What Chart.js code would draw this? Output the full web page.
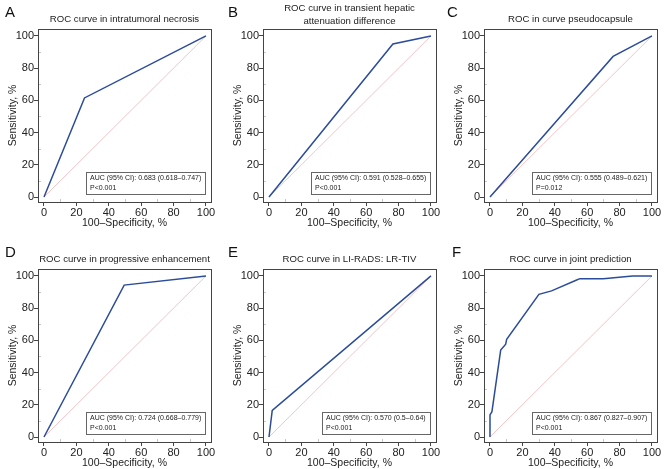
<!DOCTYPE html>
<html>
<head>
<meta charset="utf-8">
<script src="https://cdn.jsdelivr.net/npm/chart.js@4.4.0/dist/chart.umd.min.js"></script>
<style>
html,body{margin:0;padding:0;background:#fff;}
#wrap{position:relative;width:670px;height:469px;overflow:hidden;}
#wrap canvas{position:absolute;}
</style>
</head>
<body>
<div id="wrap"></div>
<script>
// tick labels shared by all panels
var axisTicks = [0, 20, 40, 60, 80, 100];
var minorTicks = [10, 30, 50, 70, 90];
var refX = [0, 100], refY = [0, 100];

// A - intratumoral necrosis
var fprA = [0, 25, 100];
var tprA = [0, 61.5, 100];
// B - transient hepatic attenuation difference
var fprB = [0, 76.5, 100];
var tprB = [0, 95, 100];
// C - pseudocapsule
var fprC = [0, 76, 100];
var tprC = [0, 87.3, 100];
// D - progressive enhancement
var fprD = [0, 49.5, 100];
var tprD = [0, 94.3, 100];
// E - LI-RADS LR-TIV
var fprE = [0, 2, 100];
var tprE = [0, 16.5, 100];
// F - joint prediction
var fprF = [0, 0, 1.2, 6.6, 9.7, 10.3, 30.2, 38, 53.5, 55.5, 70, 88, 100];
var tprF = [0, 13.7, 15.7, 54, 57.6, 60.7, 88.6, 90.7, 97.5, 98.3, 98.3, 100, 100];

var letters = ['A', 'B', 'C', 'D', 'E', 'F'];
var titles = [
  ['ROC curve in intratumoral necrosis'],
  ['ROC curve in transient hepatic', 'attenuation difference'],
  ['ROC in curve pseudocapsule'],
  ['ROC curve in progressive enhancement'],
  ['ROC curve in LI-RADS: LR-TIV'],
  ['ROC curve in joint prediction']
];
var aucText = [
  'AUC (95% CI): 0.683 (0.618\u20130.747)',
  'AUC (95% CI): 0.591 (0.528\u20130.655)',
  'AUC (95% CI): 0.555 (0.489\u20130.621)',
  'AUC (95% CI): 0.724 (0.668\u20130.779)',
  'AUC (95% CI): 0.570 (0.5\u20130.64)',
  'AUC (95% CI): 0.867 (0.827\u20130.907)'
];
var pText = ['P<0.001', 'P<0.001', 'P=0.012', 'P<0.001', 'P<0.001', 'P<0.001'];
var fprs = [fprA, fprB, fprC, fprD, fprE, fprF];
var tprs = [tprA, tprB, tprC, tprD, tprE, tprF];

// panel boxes on the page: canvas x,y,w,h + plot area l,r,t,b + letter x
var boxes = [
  {x:0,   y:0,   w:223, h:235, l:38, r:211, t:29, b:202, lx:5},
  {x:223, y:0,   w:223, h:235, l:40, r:213, t:29, b:202, lx:5},
  {x:446, y:0,   w:224, h:235, l:38, r:211, t:29, b:202, lx:1},
  {x:0,   y:235, w:223, h:234, l:38, r:211, t:34, b:207, lx:5},
  {x:223, y:235, w:223, h:234, l:40, r:213, t:34, b:207, lx:5},
  {x:446, y:235, w:224, h:234, l:38, r:211, t:34, b:207, lx:6}
];

var FONT = '"Liberation Sans", Arial, sans-serif';
var BLUE = '#2b4c9b';

function toPts(xs, ys){
  var out = [];
  for (var i = 0; i < xs.length; i++) out.push({x: xs[i], y: ys[i]});
  return out;
}

var decor = {
  id: 'decor',
  afterDraw: function(chart){
    var k = chart.options.plugins.decor;
    var ctx = chart.ctx, a = chart.chartArea;
    var sx = chart.scales.x, sy = chart.scales.y;
    ctx.save();
    // faint minor ticks inside the frame
    ctx.strokeStyle = '#c8c8c8';
    ctx.lineWidth = 1;
    ctx.beginPath();
    minorTicks.forEach(function(v){
      var px = Math.round(sx.getPixelForValue(v)) + 0.5;
      ctx.moveTo(px, a.bottom); ctx.lineTo(px, a.bottom - 3);
      var py = Math.round(sy.getPixelForValue(v)) + 0.5;
      ctx.moveTo(a.left, py); ctx.lineTo(a.left + 3, py);
    });
    ctx.stroke();
    // frame
    ctx.strokeStyle = '#444';
    ctx.strokeRect(Math.round(a.left) + 0.5, Math.round(a.top) + 0.5, Math.round(a.right - a.left), Math.round(a.bottom - a.top));
    // letter
    ctx.fillStyle = '#111';
    ctx.font = '15px ' + FONT;
    ctx.textBaseline = 'middle';
    ctx.textAlign = 'left';
    ctx.fillText(k.letter, k.lx, k.titleY - 6);
    // title
    ctx.font = '9.6px ' + FONT;
    ctx.fillStyle = '#222';
    ctx.textAlign = 'center';
    var cx = (a.left + a.right) / 2;
    if (k.title.length == 2) {
      ctx.fillText(k.title[0], cx, 8);
      ctx.fillText(k.title[1], cx, 21);
    } else {
      ctx.fillText(k.title[0], cx, k.titleY);
    }
    // axis titles
    ctx.font = '10.5px ' + FONT;
    ctx.fillText('100\u2013Specificity, %', cx, a.bottom + 21);
    ctx.save();
    ctx.translate(a.left - 25, (a.top + a.bottom) / 2);
    ctx.rotate(-Math.PI / 2);
    ctx.fillText('Sensitivity, %', 0, 0);
    ctx.restore();
    // AUC box
    ctx.font = '7px ' + FONT;
    var tw = ctx.measureText(k.auc).width;
    var bw = Math.round(tw + 8), bh = 22;
    var bx = Math.round(a.right - 6 - bw), by = Math.round(a.bottom - 8 - bh);
    ctx.fillStyle = '#fff';
    ctx.fillRect(bx, by, bw, bh);
    ctx.strokeStyle = '#666';
    ctx.strokeRect(bx + 0.5, by + 0.5, bw, bh);
    ctx.fillStyle = '#222';
    ctx.textAlign = 'left';
    ctx.fillText(k.auc, bx + 4, by + 6.5);
    ctx.fillText(k.p, bx + 4, by + 16.5);
    ctx.restore();
  }
};

var wrap = document.getElementById('wrap');

for (var n = 0; n < 6; n++) {
  (function(n){
    var g = boxes[n];
    var cv = document.createElement('canvas');
    cv.style.left = g.x + 'px';
    cv.style.top = g.y + 'px';
    cv.style.width = g.w + 'px';
    cv.style.height = g.h + 'px';
    cv.width = g.w; cv.height = g.h;
    wrap.appendChild(cv);

    new Chart(cv.getContext('2d'), {
      type: 'scatter',
      data: {
        datasets: [
          {
            data: toPts(fprs[n], tprs[n]),
            showLine: true,
            borderColor: BLUE,
            borderWidth: 1.5,
            pointRadius: 0,
            tension: 0
          },
          {
            data: toPts(refX, refY),
            showLine: true,
            borderColor: '#f2b5b5',
            borderWidth: 0.8,
            pointRadius: 0
          }
        ]
      },
      options: {
        responsive: false,
        animation: false,
        devicePixelRatio: 1,
        layout: {padding: {left: 0, top: g.t, right: g.w - g.r, bottom: 0}},
        plugins: {
          legend: {display: false},
          tooltip: {enabled: false},
          decor: {
            letter: letters[n], lx: g.lx, title: titles[n],
            titleY: g.t - 10, auc: aucText[n], p: pText[n]
          }
        },
        scales: {
          x: {
            type: 'linear',
            min: -3.7, max: 103.1,
            afterFit: function(s){ s.height = g.h - g.b; },
            afterBuildTicks: function(s){ s.ticks = axisTicks.map(function(v){ return {value: v}; }); },
            grid: {drawOnChartArea: false, drawTicks: true, tickLength: 4, color: '#444'},
            border: {display: true, color: '#444'},
            ticks: {color: '#222', font: {family: FONT, size: 11}, padding: 0, maxRotation: 0}
          },
          y: {
            type: 'linear',
            min: -3.1, max: 104.3,
            afterFit: function(s){ s.width = g.l; },
            afterBuildTicks: function(s){ s.ticks = axisTicks.map(function(v){ return {value: v}; }); },
            grid: {drawOnChartArea: false, drawTicks: true, tickLength: 4, color: '#444'},
            border: {display: true, color: '#444'},
            ticks: {color: '#222', font: {family: FONT, size: 11}, padding: 0}
          }
        }
      },
      plugins: [decor]
    });
  })(n);
}
</script>
</body>
</html>
